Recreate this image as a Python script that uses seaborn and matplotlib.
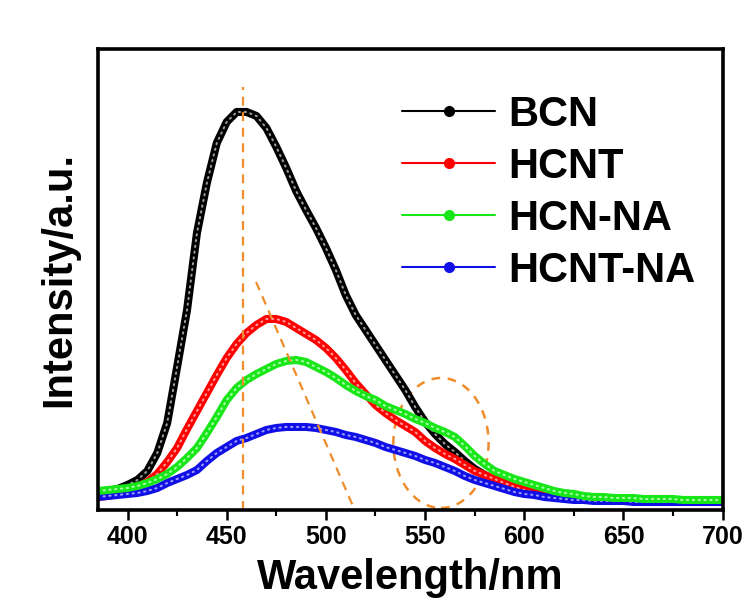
import numpy as np
import pandas as pd
import matplotlib
matplotlib.use("Agg")
import matplotlib.pyplot as plt
from matplotlib.lines import Line2D
from matplotlib.patches import Ellipse
import seaborn as sns

# ---------------- data ----------------
wavelength = list(range(385, 701, 5))

bcn = [17, 19, 21, 25, 30, 39, 57, 87, 143, 200, 277, 327, 367, 388, 398, 398,
       394, 382, 363, 342, 319, 300, 282, 262, 240, 215, 195, 180, 165, 150, 135,
       120, 103, 88, 76, 66, 58, 49, 41, 35, 30, 25, 21, 18, 16, 14, 13, 12, 11,
       10, 10, 9, 9, 9, 9, 8, 8, 8, 8, 8, 8, 8, 8, 8]
hcnt = [13, 14, 16, 19, 23, 28, 36, 48, 62, 81, 99, 117, 135, 152, 166, 177,
        185, 191, 191, 188, 182, 176, 170, 162, 152, 140, 127, 116, 105, 97, 90,
        84, 78, 69, 62, 56, 51, 45, 39, 35, 31, 27, 23, 20, 17, 15, 13, 12, 11,
        10, 10, 9, 9, 9, 9, 8, 8, 8, 8, 8, 8, 8, 8, 8]
hcn_na = [19, 20, 21, 22, 24, 27, 31, 36, 43, 52, 62, 77, 93, 110, 122, 130,
          136, 141, 146, 149, 150, 148, 143, 138, 132, 125, 119, 114, 110, 104,
          100, 96, 91, 87, 82, 78, 73, 64, 54, 46, 39, 35, 31, 28, 25, 22, 19,
          17, 16, 14, 13, 13, 12, 12, 12, 11, 11, 11, 11, 10, 10, 10, 10, 10]
hcnt_na = [13, 14, 15, 16, 17, 19, 22, 27, 31, 35, 40, 49, 57, 63, 69, 72,
           76, 80, 82, 83, 83, 83, 82, 80, 78, 75, 73, 70, 67, 63, 60, 57, 54,
           50, 47, 43, 39, 34, 30, 27, 24, 21, 18, 16, 15, 13, 12, 11, 10, 10,
           9, 9, 9, 9, 8, 8, 8, 8, 8, 8, 8, 8, 8, 8]

series_names = ["BCN", "HCNT", "HCN-NA", "HCNT-NA"]
series_values = [bcn, hcnt, hcn_na, hcnt_na]
series_colors = ["#000000", "#ff0000", "#19e619", "#1010e6"]
highlight_colors = ["#9a9a9a", "#ff9a9a", "#a6ffa6", "#9a9aff"]

xtick_values = [400, 450, 500, 550, 600, 650, 700]

# annotation guides (orange dashed)
peak_line_x = 458
peak_line_top = 423
slant_x = [464.8, 513.4]
slant_y = [228, 5]
ellipse_center = (558, 67)
ellipse_w, ellipse_h = 48, 130
orange = "#ef8c2c"

# ---------------- styling ----------------
sns.set_theme(style="ticks")
plt.rcParams["font.family"] = ["Liberation Sans", "DejaVu Sans"]
plt.rcParams["font.weight"] = "bold"
plt.rcParams["text.color"] = "black"
plt.rcParams["axes.labelcolor"] = "black"
plt.rcParams["xtick.color"] = "black"
plt.rcParams["xtick.labelcolor"] = "black"

fig = plt.figure(figsize=(7.52, 6.09), dpi=100)
ax = fig.add_axes([0.130, 0.1626, 0.831, 0.757])

df = pd.DataFrame({"wavelength": wavelength})
for name, vals in zip(series_names, series_values):
    df[name] = vals

# draw in order so that green sits on top like reference
order = [0, 1, 3, 2]
for i in order:
    name = series_names[i]
    sns.lineplot(data=df, x="wavelength", y=name, ax=ax, color=series_colors[i],
                 lw=5.8, legend=False, solid_capstyle="round", solid_joinstyle="round")
    sns.lineplot(data=df, x="wavelength", y=name, ax=ax, color=highlight_colors[i],
                 lw=1.5, legend=False, dashes=False, linestyle=(0, (0.6, 2.2)),
                 dash_capstyle="round")

# guides
ax.plot([peak_line_x, peak_line_x], [0, peak_line_top], ls=(0, (4, 3)), color=orange, lw=1.6)
ax.plot(slant_x, slant_y, ls=(0, (4, 3)), color=orange, lw=1.6)
ax.add_patch(Ellipse(ellipse_center, ellipse_w, ellipse_h, fill=False, ec=orange,
                     lw=1.8, ls=(0, (3.5, 3))))

ax.set_xlim(385, 700)
ax.set_ylim(0, 461)
ax.set_xticks(xtick_values)
ax.set_xticks(list(range(425, 700, 50)), minor=True)
ax.set_yticks([])
ax.tick_params(axis="x", which="major", direction="out", length=7, width=1.8,
               labelsize=18, pad=4, colors="black")
ax.tick_params(axis="x", which="minor", direction="out", length=4, width=1.5, colors="black")
for lab in ax.get_xticklabels():
    lab.set_fontweight("bold")
for sp in ax.spines.values():
    sp.set_visible(True)
    sp.set_linewidth(2.6)
    sp.set_color("black")

ax.set_xlabel("Wavelength/nm", fontsize=30, fontweight="bold", labelpad=6, color="black")
ax.set_ylabel("Intensity/a.u.", fontsize=30, fontweight="bold", labelpad=13, color="black")

handles = [Line2D([0], [0], color=c, lw=1.5, marker="o", ms=7, mfc=c, mec=c)
           for c in series_colors]
leg = ax.legend(handles, series_names, loc="upper left", bbox_to_anchor=(0.487, 0.901),
                frameon=False, fontsize=30, handlelength=2.23, handletextpad=0.31,
                labelspacing=0.29, borderpad=0, borderaxespad=0)
for t in leg.get_texts():
    t.set_fontweight("bold")
    t.set_color("black")

fig.savefig("out.png", dpi=100, facecolor="white")
